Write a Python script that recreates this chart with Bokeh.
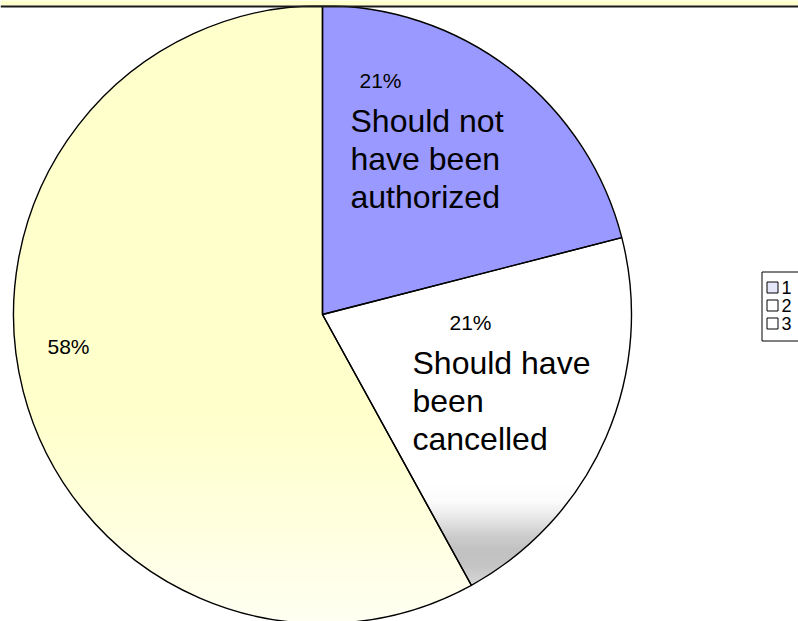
import numpy as np
from bokeh.plotting import figure
from bokeh.models import Range1d
from bokeh.embed import file_html
from bokeh.resources import INLINE
from bokeh.core.properties import value

# ---------------- data ----------------
categories = ["1", "2", "3"]
values = [21, 21, 58]
pct_labels = ["21%", "21%", "58%"]
slice_texts = [["Should not", "have been", "authorized"],
               ["Should have", "been", "cancelled"],
               []]
slice_colors = ["#9999FF", "#FFFFFF", "#FFFFCC"]
swatch_colors = ["#E6E6FA", "#FFFFFF", "#FFFFFF"]

# ---------------- layout (pixels) ----------------
W, H = 798, 621
CX, CY_PX, R = 322, 314, 309


def Y(py):
    return H - py


CY = Y(CY_PX)
FONT = value("Liberation Sans")

p = figure(width=W, height=H, x_range=Range1d(0, W), y_range=Range1d(0, H),
           output_backend="svg", toolbar_location=None, min_border=0,
           x_axis_location=None, y_axis_location=None)
p.grid.visible = False
p.outline_line_color = None
p.background_fill_color = "white"
p.border_fill_color = "white"

# angles (degrees), clockwise from 12 o'clock
tot = float(sum(values))
cum = np.concatenate([[0], np.cumsum(values)]) / tot * 360.0
starts = [90 - cum[i + 1] for i in range(len(values))]
ends = [90 - cum[i] for i in range(len(values))]

# base wedges
p.wedge(x=[CX] * 3, y=[CY] * 3, radius=R,
        start_angle=np.radians(starts), end_angle=np.radians(ends),
        direction="anticlock", fill_color=slice_colors, line_color=None)


def wedge_poly(a0, a1, n=240):
    t = np.radians(np.linspace(a0, a1, n))
    xs = [CX] + list(CX + R * np.cos(t))
    ys = [CY] + list(CY + R * np.sin(t))
    return list(zip(xs, ys))


def clip(poly, y0, keep_above):
    out = []
    n = len(poly)
    for i in range(n):
        a = poly[i]
        b = poly[(i + 1) % n]
        ina = (a[1] >= y0) if keep_above else (a[1] <= y0)
        inb = (b[1] >= y0) if keep_above else (b[1] <= y0)
        if ina:
            out.append(a)
        if ina != inb:
            t = (y0 - a[1]) / (b[1] - a[1])
            out.append((a[0] + t * (b[0] - a[0]), y0))
    return out


def interp_color(py, stops):
    ys = [s[0] for s in stops]
    rgb = []
    for k in range(3):
        rgb.append(int(round(np.interp(py, ys, [s[1][k] for s in stops]))))
    return "#%02x%02x%02x" % tuple(rgb)


# gradient stops (pixel y, rgb) for white and yellow slices
grad = {
    1: [(480, (255, 255, 255)), (500, (252, 252, 252)), (515, (235, 235, 235)),
        (535, (205, 205, 205)), (550, (193, 193, 193)), (565, (196, 196, 196)),
        (592, (222, 222, 222))],
    2: [(420, (255, 255, 204)), (520, (255, 255, 222)), (621, (255, 255, 242))],
}

gx, gy, gc = [], [], []
for idx, stops in grad.items():
    poly = wedge_poly(starts[idx], ends[idx])
    top_px = stops[0][0]
    step = 2
    for py in range(top_px, H + 2, step):
        band = clip(poly, Y(py), False)
        band = clip(band, Y(py + step + 1), True)
        if len(band) < 3:
            continue
        gx.append([q[0] for q in band])
        gy.append([q[1] for q in band])
        gc.append(interp_color(py + step / 2, stops))
p.patches(xs=gx, ys=gy, fill_color=gc, line_color=None)

# outlines
p.wedge(x=[CX] * 3, y=[CY] * 3, radius=R,
        start_angle=np.radians(starts), end_angle=np.radians(ends),
        direction="anticlock", fill_color=None, line_color="black", line_width=1.4)

# top band of the chart area
p.quad(left=[0], right=[W], bottom=[Y(5)], top=[H + 2], fill_color="#FFFFCC", line_color=None)
p.quad(left=[0], right=[W], bottom=[Y(7)], top=[Y(5)], fill_color="#1a1a1a", line_color=None)

# labels (vertical centres)
pct_pos = [(359, 80), (449, 322), (47, 346)]
p.text(x=[q[0] for q in pct_pos], y=[Y(q[1]) for q in pct_pos], text=pct_labels,
       text_font=FONT, text_font_size="21px", text_color="black",
       text_align="left", text_baseline="middle")

txt_pos = [(350, 120), (412, 362), (0, 0)]
lx, ly, lt = [], [], []
for i, lines in enumerate(slice_texts):
    for j, line in enumerate(lines):
        lx.append(txt_pos[i][0])
        ly.append(Y(txt_pos[i][1] + 38 * j))
        lt.append(line)
p.text(x=lx, y=ly, text=lt, text_font=FONT, text_font_size="32px",
       text_color="black", text_align="left", text_baseline="middle")

# legend
p.quad(left=[761.5], right=[W + 5], top=[Y(271.5)], bottom=[Y(340.5)],
       fill_color="white", line_color="black", line_width=1)
leg_y = [287, 305, 323]
p.scatter(x=[772] * 3, y=[Y(v) for v in leg_y], marker="square", size=11,
          fill_color=swatch_colors, line_color="black", line_width=1)
p.text(x=[781] * 3, y=[Y(v) for v in leg_y], text=categories, text_font=FONT,
       text_font_size="18px", text_color="black", text_align="left",
       text_baseline="middle")

open("out.html", "w").write(file_html(p, INLINE))
